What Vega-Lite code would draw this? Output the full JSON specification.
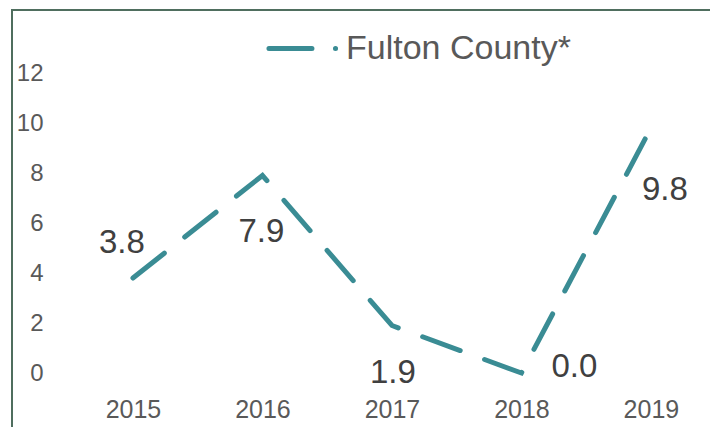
{
  "$schema": "https://vega.github.io/schema/vega-lite/v6.json",
  "autosize": "none",
  "padding": {"left": 12, "top": 10, "right": 0, "bottom": 0},
  "width": 720,
  "height": 430,
  "background": "white",
  "config": {"view": {"stroke": "#4F6E5E", "strokeWidth": 2}, "font": "Liberation Sans"},
  "datasets": {
    "series": [
      {"year": 2015, "value": 3.8, "series": "Fulton County*"},
      {"year": 2016, "value": 7.9, "series": "Fulton County*"},
      {"year": 2017, "value": 1.9, "series": "Fulton County*"},
      {"year": 2018, "value": 0.0, "series": "Fulton County*"},
      {"year": 2019, "value": 9.8, "series": "Fulton County*"}
    ],
    "grid": [
      {"value": 0}, {"value": 2}, {"value": 4}, {"value": 6}, {"value": 8}, {"value": 10}, {"value": 12}
    ]
  },
  "encoding": {
    "x": {
      "field": "year", "type": "quantitative",
      "scale": {"domain": [2014.066, 2019.626], "nice": false, "zero": false},
      "axis": {"values": [2015, 2016, 2017, 2018, 2019], "format": "d", "domain": false, "ticks": false, "grid": false,
        "offset": -40, "labelPadding": 9, "labelBaseline": "middle", "labelFlush": false,
        "labelFont": "Liberation Sans", "labelFontSize": 25, "labelColor": "#595959", "title": null}
    },
    "y": {
      "field": "value", "type": "quantitative",
      "scale": {"domain": [-2.68, 14.52], "nice": false, "zero": false},
      "axis": {"values": [0, 2, 4, 6, 8, 10, 12], "domain": false, "ticks": false, "grid": false,
        "offset": -37, "labelPadding": 6, "labelFlush": false,
        "labelFont": "Liberation Sans", "labelFontSize": 24, "labelColor": "#595959", "title": null}
    }
  },
  "layer": [
    {
      "data": {"name": "grid"},
      "mark": {"type": "rule", "color": "#D9D9D9", "strokeWidth": 1.5},
      "encoding": {
        "x": {"datum": 2014.5, "type": "quantitative"},
        "x2": {"datum": 2019.5}
      }
    },
    {
      "data": {"name": "series"},
      "mark": {"type": "line", "strokeWidth": 5, "strokeDash": [40, 26], "strokeCap": "round", "strokeJoin": "miter"},
      "encoding": {
        "color": {
          "field": "series", "type": "nominal",
          "scale": {"range": ["#3A8C94"]},
          "legend": {
            "orient": "none", "legendX": 254, "legendY": 2, "title": null, "padding": 0,
            "symbolType": "stroke", "symbolSize": 4500, "symbolStrokeWidth": 5,
            "symbolDash": [43, 23.5, 0.1, 100], "symbolStrokeColor": "#3A8C94",
            "labelFont": "Liberation Sans", "labelFontSize": 34, "labelColor": "#595959", "labelOffset": 7, "labelLimit": 500,
            "encode": {"symbols": {"update": {"strokeCap": {"value": "round"}}}}
          }
        }
      }
    },
    {
      "data": {"name": "series"},
      "transform": [{"filter": "datum.year == 2015"}],
      "mark": {"type": "text", "dx": -11, "dy": -35, "fontSize": 33, "color": "#404040", "font": "Liberation Sans", "baseline": "middle", "align": "center"},
      "encoding": {"text": {"field": "value", "type": "quantitative", "format": ".1f"}}
    },
    {
      "data": {"name": "series"},
      "transform": [{"filter": "datum.year == 2016"}],
      "mark": {"type": "text", "dx": -1, "dy": 56, "fontSize": 33, "color": "#404040", "font": "Liberation Sans", "baseline": "middle", "align": "center"},
      "encoding": {"text": {"field": "value", "type": "quantitative", "format": ".1f"}}
    },
    {
      "data": {"name": "series"},
      "transform": [{"filter": "datum.year == 2017"}],
      "mark": {"type": "text", "dx": 1, "dy": 47, "fontSize": 33, "color": "#404040", "font": "Liberation Sans", "baseline": "middle", "align": "center"},
      "encoding": {"text": {"field": "value", "type": "quantitative", "format": ".1f"}}
    },
    {
      "data": {"name": "series"},
      "transform": [{"filter": "datum.year == 2018"}],
      "mark": {"type": "text", "dx": 53, "dy": -6, "fontSize": 33, "color": "#404040", "font": "Liberation Sans", "baseline": "middle", "align": "center"},
      "encoding": {"text": {"field": "value", "type": "quantitative", "format": ".1f"}}
    },
    {
      "data": {"name": "series"},
      "transform": [{"filter": "datum.year == 2019"}],
      "mark": {"type": "text", "dx": 14, "dy": 62, "fontSize": 33, "color": "#404040", "font": "Liberation Sans", "baseline": "middle", "align": "center"},
      "encoding": {"text": {"field": "value", "type": "quantitative", "format": ".1f"}}
    }
  ]
}
